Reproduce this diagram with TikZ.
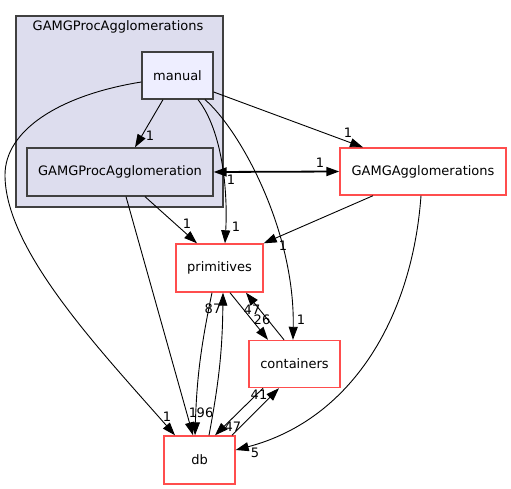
\documentclass[tikz,border=0pt]{standalone}
\usepackage{fontspec}
\setmainfont{DejaVu Sans}
\usetikzlibrary{arrows.meta}
\definecolor{clusterfill}{HTML}{DDDDEE}
\definecolor{manualfill}{HTML}{EEEEFF}
\definecolor{boxline}{HTML}{404040}
\definecolor{redline}{HTML}{FF4D4D}
\begin{document}
\begin{tikzpicture}[x=1pt,y=-1pt,
  txt/.style={font=\fontsize{13}{15}\selectfont,inner sep=0pt},
  dirbox/.style={txt,draw=boxline,fill=clusterfill,line width=1.3pt},
  extbox/.style={txt,draw=redline,fill=white,line width=1.4pt},
  dep/.style={-{Triangle[length=13pt,width=9pt]},line width=0.9pt},
  num/.style={txt}]
\useasboundingbox (0,0) rectangle (511,489);

\node[dirbox,minimum width=207,minimum height=191] (cluster) at (119.5,111.5) {};
\node[txt] (clustername) at (118,27) {GAMGProcAgglomerations};
\node[dirbox,fill=manualfill,minimum width=71,minimum height=47] (manual) at (177.5,75.5) {manual};
\node[dirbox,minimum width=186,minimum height=48] (procagg) at (120,172) {GAMGProcAgglomeration};
\node[extbox,minimum width=166,minimum height=47] (gamgagg) at (423,171.5) {GAMGAgglomerations};
\node[extbox,minimum width=87,minimum height=48] (primitives) at (219.5,268) {primitives};
\node[extbox,minimum width=91,minimum height=47] (containers) at (294.5,364) {containers};
\node[extbox,minimum width=71,minimum height=48] (db) at (199.5,460) {db};

% from manual
\draw[dep] ([xshift=-14.5pt]manual.south) -- ([xshift=15pt]procagg.north);
\node[num] (n1) at (150,136) {1};
\draw[dep] ([yshift=-16.5pt]manual.east) -- ([xshift=-60pt]gamgagg.north);
\node[num] (n2) at (348,133) {1};
\draw[dep] ([yshift=-6.5pt]manual.west) .. controls (60,95) and (5,130) .. (5,175)
  .. controls (5,250) and (100,350) .. ([xshift=-24.5pt]db.north);
\node[num] (n3) at (167,417) {1};
\draw[dep] ([xshift=20.5pt]manual.south) .. controls (222,130) and (228,190) .. ([xshift=5.5pt]primitives.north);
\node[num] (n4) at (236,227) {1};
\draw[dep] ([xshift=27.5pt]manual.south) .. controls (240,130) and (295,230) .. ([xshift=-1.5pt]containers.north);
\node[num] (n5) at (301,320) {1};

% between the two agglomeration dirs
\draw[{Triangle[length=13pt,width=9pt]}-{Triangle[length=13pt,width=9pt]},line width=1.8pt] (procagg.east) -- (gamgagg.west);
\node[num] (n6) at (231,180) {1};
\node[num] (n7) at (320,163) {1};

% from GAMGProcAgglomeration
\draw[dep] ([xshift=25pt]procagg.south) -- ([xshift=-22.5pt]primitives.north);
\node[num] (n8) at (187,224) {1};
\draw[dep] ([xshift=6pt]procagg.south) -- ([xshift=-6.5pt]db.north);
\node[num] (n9) at (193,413) {1};

% from GAMGAgglomerations
\draw[dep] ([xshift=-50pt]gamgagg.south) -- (primitives.north east);
\node[num] (n10) at (283,246) {1};
\draw[dep] ([xshift=-2pt]gamgagg.south) .. controls (412,320) and (350,420) .. ([yshift=10pt]db.east);
\node[num] (n11) at (255,453) {5};

% primitives, containers, db
\draw[dep] ([xshift=10.5pt]primitives.south) -- ([xshift=-26.5pt]containers.north);
\node[num] (n12) at (262,320) {26};
\draw[dep] ([xshift=-10.5pt]containers.north) -- ([xshift=26.5pt]primitives.south);
\node[num] (n13) at (252,310) {47};
\draw[dep] ([xshift=-7.5pt]primitives.south) to[bend right=5] ([xshift=-4.5pt]db.north);
\node[num] (n14) at (205,413) {96};
\draw[dep] ([xshift=9.5pt]db.north) to[bend right=5] ([xshift=3.5pt]primitives.south);
\node[num] (n15) at (213,309) {87};
\draw[dep] ([xshift=32.5pt]db.north) -- ([xshift=-15.5pt]containers.south);
\node[num] (n16) at (259,395) {41};
\draw[dep] ([xshift=-31.5pt]containers.south) -- ([xshift=15.5pt]db.north);
\node[num] (n17) at (233,427) {47};
\end{tikzpicture}
\end{document}
